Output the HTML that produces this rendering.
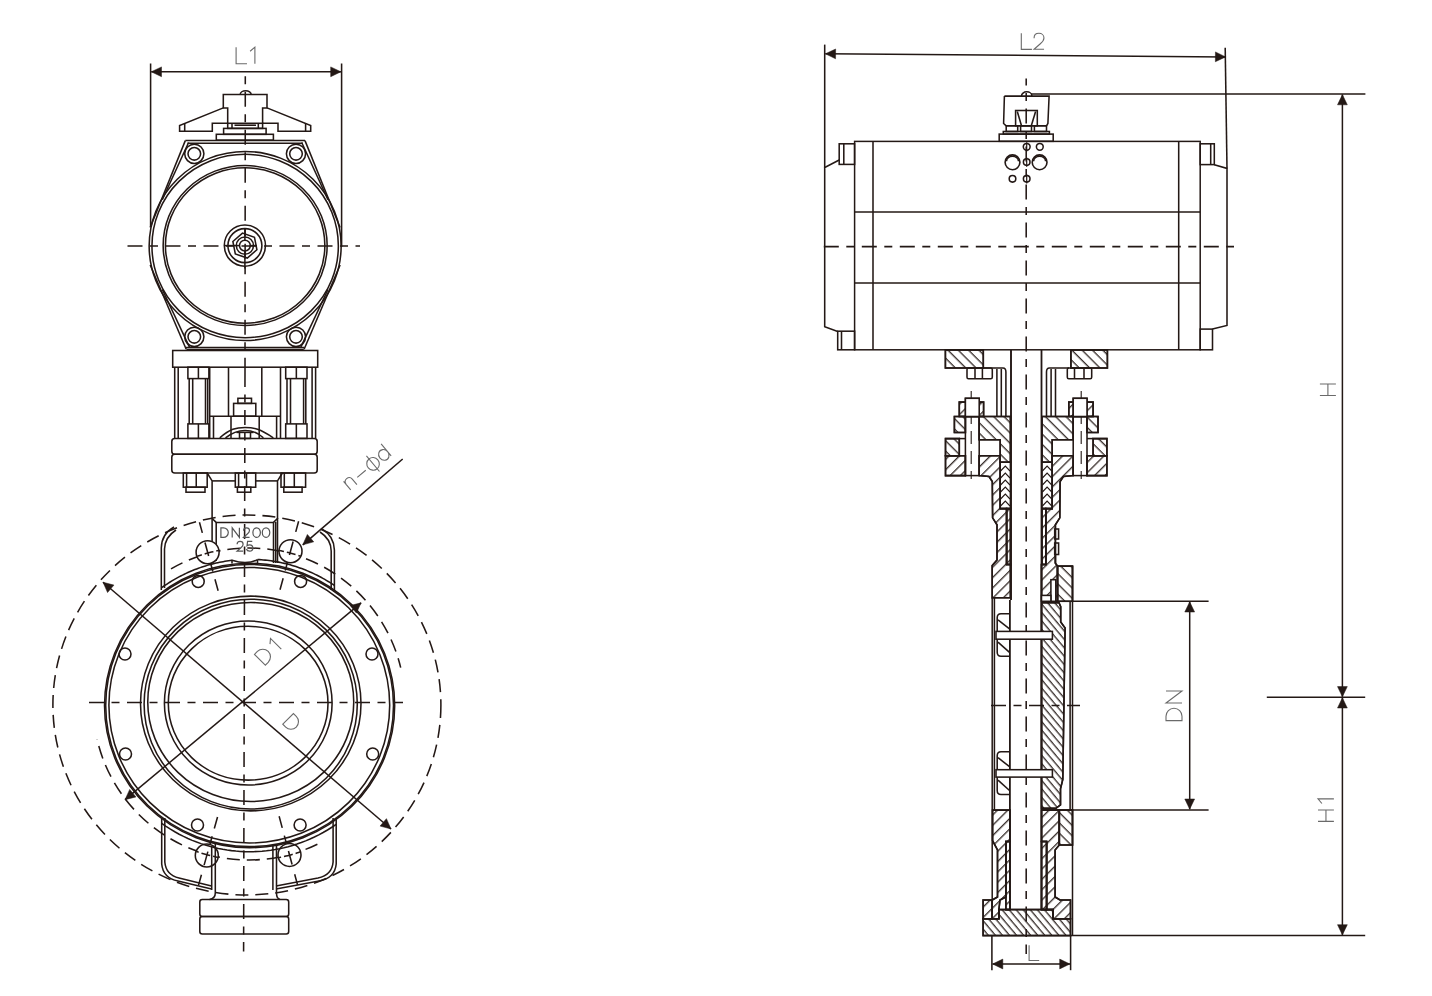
<!DOCTYPE html>
<html><head><meta charset="utf-8"><title>Butterfly valve drawing</title>
<style>
html,body{margin:0;padding:0;background:#fff;}
body{width:1432px;height:996px;overflow:hidden;}
svg{display:block;}
svg text{font-family:"Liberation Sans",sans-serif;stroke:none;opacity:0.99;}
</style></head><body>
<svg width="1432" height="996" viewBox="0 0 1432 996">
<defs>
<pattern id="hb" patternUnits="userSpaceOnUse" width="20" height="7.3" patternTransform="rotate(45)"><line x1="0" y1="0.7" x2="20" y2="0.7" stroke="#231815" stroke-width="1.2"/></pattern>
<pattern id="hf" patternUnits="userSpaceOnUse" width="20" height="7.3" patternTransform="rotate(-45)"><line x1="0" y1="0.7" x2="20" y2="0.7" stroke="#231815" stroke-width="1.2"/></pattern>
<pattern id="hbs" patternUnits="userSpaceOnUse" width="20" height="5.4" patternTransform="rotate(50)"><line x1="0" y1="0.7" x2="20" y2="0.7" stroke="#231815" stroke-width="1.2"/></pattern>
<pattern id="hfd" patternUnits="userSpaceOnUse" width="20" height="3.2" patternTransform="rotate(-60)"><line x1="0" y1="0.6" x2="20" y2="0.6" stroke="#231815" stroke-width="1.1"/></pattern>
</defs>
<rect width="100%" height="100%" fill="#fff"/>
<g fill="none" stroke="#231815" stroke-width="1.55" stroke-linejoin="miter" stroke-linecap="butt">
<style>.cl{stroke-dasharray:15 7.5 8 7.5;} .dc{stroke-dasharray:13 7;} .thin{stroke-width:1.1;}</style>
<line x1="150.6" y1="63.5" x2="150.6" y2="227"/>
<line x1="341.6" y1="63.5" x2="341.6" y2="247"/>
<line x1="151.3" y1="71.8" x2="340.9" y2="71.8" stroke-width="1.5"/>
<polygon points="151.3,71.8 161.5,66.9 161.5,76.7" fill="#231815" stroke-width="0.5"/>
<polygon points="340.9,71.8 330.7,76.7 330.7,66.9" fill="#231815" stroke-width="0.5"/>
<path d="M 0.00 -16.50 V 0.00 H 10.89 M 14.00 -12.46 L 18.79 -16.50 V 0.00" transform="translate(236.1 63.7) rotate(0)" stroke="#6a6a6a" stroke-width="1.1" fill="none" stroke-linecap="butt"/>
<path d="M240.2,94.6 A5.5,3.8 0 0 1 251.2,94.6"/>
<polyline points="227.7,123.3 227.7,107.9 223.3,107.9 223.3,94.4 267,94.4 267,107.9 262.6,107.9 262.6,123.3"/>
<polyline points="223.3,107.9 179.6,125.5 179.6,131.3 212.3,131.3 212.3,123.3 227.7,123.3"/>
<polyline points="267,107.9 310.7,125.5 310.7,131.3 278,131.3 278,123.3 262.6,123.3"/>
<line x1="184.7" y1="123.4" x2="184.7" y2="131.3"/>
<line x1="305.6" y1="123.4" x2="305.6" y2="131.3"/>
<rect x="227.7" y="123.3" width="34.9" height="5.1"/>
<line x1="232" y1="123.3" x2="232" y2="128.4"/>
<line x1="258.3" y1="123.3" x2="258.3" y2="128.4"/>
<line x1="234.5" y1="125.2" x2="256" y2="125.2"/>
<rect x="223.6" y="128.4" width="42.5" height="5.9"/>
<rect x="216.3" y="134.3" width="57.1" height="5.8"/>
<line x1="185.3" y1="140.6" x2="305" y2="140.6" stroke-width="1.5"/>
<line x1="187.5" y1="143.2" x2="302.8" y2="143.2"/>
<polyline points="185.3,140.6 150.2,227.5"/>
<polyline points="150.2,265 186.2,349.2"/>
<polyline points="305,140.6 340.1,227.5"/>
<polyline points="340.1,265 304.1,349.2"/>
<line x1="188.6" y1="142.5" x2="162.3" y2="199.8"/>
<line x1="162.3" y1="289.5" x2="189.7" y2="347.6"/>
<line x1="301.7" y1="142.5" x2="328" y2="199.8"/>
<line x1="328" y1="289.5" x2="300.6" y2="347.6"/>
<line x1="186" y1="347.4" x2="304.3" y2="347.4"/>
<line x1="186.5" y1="349.6" x2="303.8" y2="349.6"/>
<ellipse cx="245.15" cy="246" rx="96" ry="94.5"/>
<ellipse cx="245.15" cy="246" rx="93.2" ry="91.7"/>
<ellipse cx="245.15" cy="245.5" rx="82" ry="80"/>
<ellipse cx="245.15" cy="245.5" rx="79.7" ry="77.8"/>
<circle cx="194.3" cy="153.8" r="9.6"/>
<circle cx="194.3" cy="153.8" r="6.3"/>
<circle cx="296" cy="153.8" r="9.6"/>
<circle cx="296" cy="153.8" r="6.3"/>
<circle cx="194.3" cy="336.8" r="9.6"/>
<circle cx="194.3" cy="336.8" r="6.3"/>
<circle cx="296" cy="336.8" r="9.6"/>
<circle cx="296" cy="336.8" r="6.3"/>
<circle cx="244.9" cy="245.6" r="20.6"/>
<circle cx="244.9" cy="245.6" r="17"/>
<polygon points="256.91,249.73 247.32,258.07 235.32,253.93 232.89,241.47 242.48,233.13 254.48,237.27"/>
<circle cx="244.9" cy="245.6" r="8.6"/>
<circle cx="244.9" cy="245.6" r="5.4"/>
<line x1="224.3" y1="245.6" x2="239.5" y2="245.6"/>
<line x1="250.3" y1="245.6" x2="256.9" y2="245.6"/>
<line x1="244.9" y1="228.6" x2="244.9" y2="241.1"/>
<line x1="244.9" y1="251" x2="244.9" y2="268.6"/>
<line x1="127.5" y1="246" x2="360" y2="246" class="cl"/>
<line x1="245.3" y1="76.3" x2="245" y2="372" class="cl" stroke-dashoffset="22.5"/>
<rect x="172.7" y="350.5" width="145" height="16.7"/>
<line x1="174.7" y1="367.2" x2="174.7" y2="438.4"/>
<line x1="178.2" y1="367.2" x2="178.2" y2="438.4"/>
<line x1="312.1" y1="367.2" x2="312.1" y2="438.4"/>
<line x1="315.6" y1="367.2" x2="315.6" y2="438.4"/>
<rect x="187.9" y="367.2" width="21" height="11.4"/>
<rect x="187.9" y="423.9" width="21" height="14.5"/>
<line x1="198.4" y1="367.2" x2="198.4" y2="378.6"/>
<line x1="198.4" y1="423.9" x2="198.4" y2="438.4"/>
<line x1="189.2" y1="378.6" x2="189.2" y2="423.9"/>
<line x1="192.7" y1="378.6" x2="192.7" y2="423.9"/>
<line x1="205.5" y1="378.6" x2="205.5" y2="423.9"/>
<line x1="207.7" y1="378.6" x2="207.7" y2="423.9"/>
<rect x="285.7" y="367.2" width="21.3" height="11.4"/>
<rect x="285.7" y="423.9" width="21.3" height="14.5"/>
<line x1="296.35" y1="367.2" x2="296.35" y2="378.6"/>
<line x1="296.35" y1="423.9" x2="296.35" y2="438.4"/>
<line x1="287" y1="378.6" x2="287" y2="423.9"/>
<line x1="290.5" y1="378.6" x2="290.5" y2="423.9"/>
<line x1="303.6" y1="378.6" x2="303.6" y2="423.9"/>
<line x1="305.8" y1="378.6" x2="305.8" y2="423.9"/>
<line x1="209.7" y1="367.2" x2="209.7" y2="438.4"/>
<line x1="280.5" y1="367.2" x2="280.5" y2="438.4"/>
<line x1="228.5" y1="367.2" x2="228.5" y2="416.2"/>
<line x1="261.8" y1="367.2" x2="261.8" y2="416.2"/>
<line x1="209.7" y1="416.2" x2="280.5" y2="416.2"/>
<rect x="237.9" y="398.3" width="13.6" height="5.1"/>
<rect x="233.6" y="403.4" width="22.2" height="12.8"/>
<line x1="213.5" y1="416.2" x2="213.5" y2="438.4"/>
<line x1="276.6" y1="416.2" x2="276.6" y2="438.4"/>
<line x1="231" y1="416.2" x2="231" y2="438.4"/>
<line x1="259.2" y1="416.2" x2="259.2" y2="438.4"/>
<path d="M219.8,437.8 C230,429 236,427.4 245,427.4 C254,427.4 260,429 273.3,437.8"/>
<path d="M225.5,437.8 C233,431.8 238,430.4 245,430.4 C252,430.4 257,431.8 263.4,437.8"/>
<rect x="239.5" y="432.4" width="11" height="6"/>
<line x1="236.5" y1="432.4" x2="239.5" y2="432.4"/>
<line x1="250.5" y1="432.4" x2="253.5" y2="432.4"/>
<rect x="171.8" y="438.4" width="145.4" height="15.8" rx="3"/>
<rect x="171.8" y="454.2" width="145.4" height="18.8" rx="3"/>
<rect x="183.3" y="473" width="23.9" height="14.2"/>
<line x1="186.6" y1="473" x2="186.6" y2="487.2"/>
<line x1="196.25" y1="473" x2="196.25" y2="487.2"/>
<rect x="186" y="487.2" width="19" height="5"/>
<rect x="235.3" y="473" width="20.4" height="14.2"/>
<line x1="238.6" y1="473" x2="238.6" y2="487.2"/>
<line x1="246.5" y1="473" x2="246.5" y2="487.2"/>
<rect x="237.4" y="487.2" width="13.4" height="5"/>
<rect x="281" y="473" width="24.6" height="14.2"/>
<line x1="284.3" y1="473" x2="284.3" y2="487.2"/>
<line x1="294.3" y1="473" x2="294.3" y2="487.2"/>
<rect x="283.8" y="487.2" width="18.3" height="5"/>
<polyline points="207.2,473 212.1,480.9 212.1,560"/>
<polyline points="282.4,473 277.5,480.9 277.5,563"/>
<line x1="212.1" y1="480.9" x2="235.3" y2="480.9"/>
<line x1="255.7" y1="480.9" x2="277.5" y2="480.9"/>
<line x1="275.7" y1="522" x2="275.7" y2="563"/>
<polyline points="211.6,518 216.2,522.4 273.5,522.4 278,518"/>
<line x1="216.2" y1="522.4" x2="216.2" y2="561"/>
<line x1="273.5" y1="522.4" x2="273.5" y2="563"/>
<line x1="245" y1="372" x2="243.6" y2="951.5" class="cl"/>
<ellipse cx="246.9" cy="705" rx="194" ry="190" class="dc"/>
<path d="M171,568.9 A156,156 0 0 1 400.69,667.58" class="dc"/>
<path d="M317.39,844.21 A156,156 0 0 1 97,739.09" class="dc"/>
<ellipse cx="249.6" cy="705.5" rx="145.1" ry="142.2" stroke-width="1.5"/>
<ellipse cx="249.6" cy="705.5" rx="143.9" ry="141.1"/>
<ellipse cx="249.3" cy="705.2" rx="140.4" ry="137.8"/>
<ellipse cx="250.75" cy="703.5" rx="110.25" ry="107.4"/>
<ellipse cx="250.7" cy="704.1" rx="106.6" ry="104.9"/>
<ellipse cx="250.75" cy="702" rx="103" ry="99.5"/>
<ellipse cx="248.25" cy="703" rx="83.85" ry="82"/>
<ellipse cx="248.15" cy="703.2" rx="79.85" ry="76.9"/>
<circle cx="198.2" cy="581.4" r="6"/>
<circle cx="300.6" cy="581.4" r="6"/>
<circle cx="125" cy="654" r="6"/>
<circle cx="372" cy="654" r="6"/>
<circle cx="125.5" cy="754" r="6"/>
<circle cx="372.7" cy="754" r="6"/>
<circle cx="197.5" cy="825" r="6"/>
<circle cx="300.1" cy="825" r="6"/>
<circle cx="207.6" cy="552.2" r="11.5" fill="#fff"/>
<path d="M199.44,522.29 L218.39,591.76" stroke-dasharray="11 10 14 8 8 8 12"/>
<circle cx="290.5" cy="551.2" r="11.5" fill="#fff"/>
<path d="M298.63,521.28 L279.75,590.77" stroke-dasharray="11 10 14 8 8 8 12"/>
<circle cx="206.8" cy="855.5" r="11.5" fill="#fff"/>
<path d="M198.48,885.36 L217.8,816" stroke-dasharray="11 10 14 8 8 8 12"/>
<circle cx="289.5" cy="854.9" r="11.5" fill="#fff"/>
<path d="M297.54,884.84 L278.87,815.3" stroke-dasharray="11 10 14 8 8 8 12"/>
<polyline points="197.07,556.37 198.84,555.76 200.63,555.16 202.41,554.59 204.21,554.05 206.01,553.52 207.82,553.01 209.64,552.53 211.46,552.07 213.28,551.63 215.11,551.21 216.95,550.82 218.79,550.44" stroke-dasharray="5 3 9 3"/>
<polyline points="279.05,550.41 280.89,550.78 282.73,551.18 284.56,551.59 286.38,552.03 288.2,552.49 290.02,552.97 291.83,553.47 293.63,554 295.43,554.55 297.22,555.11 299,555.7 300.78,556.31" stroke-dasharray="5 3 9 3"/>
<polyline points="217.96,857.39 216.12,857.01 214.29,856.6 212.46,856.17 210.64,855.72 208.82,855.25 207.01,854.76 205.2,854.25 203.4,853.71 201.61,853.15 199.82,852.57 198.04,851.97 196.27,851.35" stroke-dasharray="5 3 9 3"/>
<polyline points="300.34,851.84 298.56,852.45 296.77,853.03 294.98,853.59 293.18,854.13 291.38,854.65 289.57,855.15 287.75,855.63 285.93,856.08 284.1,856.51 282.27,856.92 280.43,857.31 278.59,857.68" stroke-dasharray="5 3 9 3"/>
<polyline points="161.3,587.95 163.07,586.69 164.84,585.46 166.6,584.27 168.37,583.11 170.14,581.99 171.91,580.91 173.67,579.86 175.44,578.84 177.21,577.85 178.98,576.89 180.74,575.97 182.51,575.07 184.28,574.2 186.05,573.37 187.81,572.56 189.58,571.77 191.35,571.02 193.12,570.29 194.88,569.59 196.65,568.91 198.42,568.26 200.19,567.63 201.95,567.03 203.72,566.45 205.49,565.9 207.25,565.37 209.02,564.86 210.79,564.38 212.56,563.92 214.32,563.48 216.09,563.07 217.86,562.68 219.63,562.31 221.4,561.96 223.16,561.64 224.93,561.33 226.7,561.05 228.47,560.79 230.23,560.55 232,560.33"/>
<polyline points="257.5,559.51 259.42,559.62 261.35,559.76 263.27,559.92 265.19,560.11 267.11,560.32 269.03,560.56 270.96,560.82 272.88,561.11 274.8,561.42 276.73,561.76 278.65,562.12 280.57,562.51 282.49,562.93 284.41,563.37 286.34,563.84 288.26,564.34 290.18,564.87 292.11,565.42 294.03,566 295.95,566.6 297.87,567.24 299.79,567.91 301.72,568.6 303.64,569.32 305.56,570.08 307.49,570.86 309.41,571.68 311.33,572.53 313.25,573.41 315.17,574.33 317.1,575.27 319.02,576.26 320.94,577.28 322.87,578.33 324.79,579.42 326.71,580.56 328.63,581.72 330.55,582.94 332.48,584.19 334.4,585.48"/>
<path d="M232,560.2 C236,561.5 240,562.5 245,562.5 C250,562.5 254,561.5 257.5,559.6"/>
<line x1="232" y1="559.8" x2="232" y2="563.5"/>
<line x1="257.5" y1="559.6" x2="257.5" y2="563.5"/>
<polyline points="161.7,823.34 166.06,826.37 170.42,829.19 174.79,831.79 179.15,834.2 183.51,836.42 187.88,838.47 192.24,840.35 196.6,842.07 200.96,843.64 205.32,845.05 209.69,846.32 214.05,847.45 218.41,848.44 222.77,849.29 227.14,850.02 231.5,850.61 235.86,851.07 240.22,851.41 244.59,851.62 248.95,851.7 253.31,851.65 257.67,851.48 262.04,851.19 266.4,850.76 270.76,850.21 275.12,849.52 279.49,848.71 283.85,847.76 288.21,846.67 292.57,845.44 296.94,844.07 301.3,842.55 305.66,840.88 310.02,839.05 314.39,837.05 318.75,834.88 323.11,832.53 327.48,829.98 331.84,827.23 336.2,824.27"/>
<path d="M161.3,590 L161.3,548 Q161.5,534 174,527"/>
<path d="M164.5,588 L164.5,549 Q165,537 176,530"/>
<path d="M334.4,592 L334.4,550 Q334,536 322,529"/>
<path d="M331.2,590 L331.2,551 Q331,539 320,532"/>
<path d="M161.7,818 L161.7,864 Q163,878 178,881 L211.5,889"/>
<path d="M164.8,818 L164.8,862 Q166,875 179,878 L211.5,886"/>
<path d="M336.2,818 L336.2,864 Q335,878 319,881 L276,889"/>
<path d="M333.1,818 L333.1,862 Q332,875 318,878 L276,886"/>
<line x1="211.7" y1="846" x2="211.7" y2="890"/>
<path d="M215.3,844 L215.3,893 Q215.3,898.6 209.5,899.4"/>
<line x1="272.9" y1="846" x2="272.9" y2="890"/>
<path d="M276.5,844 L276.5,893 Q276.5,898.6 280,899.4"/>
<rect x="199.8" y="899.4" width="88.9" height="17" rx="2.5"/>
<rect x="199.8" y="916.4" width="88.9" height="17.6" rx="2.5"/>
<line x1="89" y1="702.5" x2="403" y2="702.5" class="cl"/>
<line x1="103" y1="582.2" x2="391" y2="829" stroke-width="1.5"/>
<polygon points="103,582.2 113.93,585.12 107.56,592.56" fill="#231815" stroke-width="0.5"/>
<polygon points="391,829 380.07,826.08 386.44,818.64" fill="#231815" stroke-width="0.5"/>
<line x1="125" y1="799.7" x2="361.1" y2="602.8" stroke-width="1.5"/>
<polygon points="125,799.7 129.7,789.4 135.97,796.93" fill="#231815" stroke-width="0.5"/>
<polygon points="361.1,602.8 356.4,613.1 350.13,605.57" fill="#231815" stroke-width="0.5"/>
<path d="M 0.00 0.00 V -15.30 H 4.13 A 7.65 7.65 0 0 1 11.78 -7.65 A 7.65 7.65 0 0 1 4.13 0.00 Z M 18.20 -11.55 L 22.64 -15.30 V 0.00" transform="translate(265.3 665.2) rotate(-45)" stroke="#6a6a6a" stroke-width="1.1" fill="none" stroke-linecap="butt"/>
<path d="M 0.00 0.00 V -15.00 H 4.05 A 7.50 7.50 0 0 1 11.55 -7.50 A 7.50 7.50 0 0 1 4.05 0.00 Z" transform="translate(282.8 724.2) rotate(45)" stroke="#6a6a6a" stroke-width="1.1" fill="none" stroke-linecap="butt"/>
<path d="M 0.00 0.00 V -9.60 H 2.59 A 4.80 4.80 0 0 1 7.39 -4.80 A 4.80 4.80 0 0 1 2.59 0.00 Z M 11.30 0.00 V -9.60 L 18.50 0.00 V -9.60 M 22.70 -6.72 C 22.70 -8.54 23.94 -9.60 25.58 -9.60 C 27.30 -9.60 28.60 -8.45 28.60 -6.82 C 28.60 -5.38 27.69 -4.42 26.44 -3.36 L 22.70 -0.10 H 28.65 M 35.74 -9.60 A 3.74 4.80 0 0 1 39.49 -4.80 A 3.74 4.80 0 0 1 35.74 0.00 A 3.74 4.80 0 0 1 32.00 -4.80 A 3.74 4.80 0 0 1 35.74 -9.60 Z M 45.14 -9.60 A 3.74 4.80 0 0 1 48.89 -4.80 A 3.74 4.80 0 0 1 45.14 0.00 A 3.74 4.80 0 0 1 41.40 -4.80 A 3.74 4.80 0 0 1 45.14 -9.60 Z" transform="translate(220.9 537.4) rotate(0)" stroke="#555555" stroke-width="1.2" fill="none" stroke-linecap="butt"/>
<path d="M 0.10 -6.86 C 0.10 -8.72 1.37 -9.80 3.04 -9.80 C 4.80 -9.80 6.12 -8.62 6.12 -6.96 C 6.12 -5.49 5.19 -4.51 3.92 -3.43 L 0.10 -0.10 H 6.17 M 15.28 -9.80 H 10.58 L 9.99 -5.49 C 10.87 -6.08 11.75 -6.32 12.63 -6.32 C 14.50 -6.32 15.87 -4.90 15.87 -3.14 C 15.87 -1.27 14.40 0.00 12.63 0.00 C 10.97 0.00 9.79 -0.88 9.40 -2.16" transform="translate(237 551.2) rotate(0)" stroke="#555555" stroke-width="1.2" fill="none" stroke-linecap="butt"/>
<line x1="402.7" y1="459" x2="302.8" y2="544.8"/>
<polygon points="302.8,544.8 307.35,534.44 313.73,541.87" fill="#231815" stroke-width="0.5"/>
<path d="M0,0 V-11.1 M0,-7.2 C0.3,-10 2,-11.2 4.1,-11.2 C6.3,-11.2 8.1,-10 8.1,-7.2 V0 M13,-5.3 H24.1 M33.8,4.5 V-15.8 M52.8,0 V-15.6 M52.8,-5.5 A5,5.6 0 1 0 52.8,-5.4" transform="translate(350.7 489.8) rotate(-40)" stroke="#6a6a6a" stroke-width="1.1" fill="none"/>
<ellipse cx="33.8" cy="-5.5" rx="6.2" ry="6.4" transform="translate(350.7 489.8) rotate(-40)" stroke="#6a6a6a" stroke-width="1.1" fill="none"/>
<line x1="824.7" y1="44.6" x2="824.7" y2="167.5"/>
<polyline points="1225.2,47.7 1227,168.4"/>
<line x1="825.4" y1="53.8" x2="1225.6" y2="56.9" stroke-width="1.5"/>
<polygon points="825.4,53.8 835.64,48.98 835.56,58.78" fill="#231815" stroke-width="0.5"/>
<polygon points="1225.6,56.9 1215.36,61.72 1215.44,51.92" fill="#231815" stroke-width="0.5"/>
<path d="M 0.00 -16.10 V 0.00 H 10.63 M 12.76 -11.27 C 12.76 -14.33 14.85 -16.10 17.59 -16.10 C 20.49 -16.10 22.66 -14.17 22.66 -11.43 C 22.66 -9.02 21.13 -7.41 19.04 -5.63 L 12.76 -0.16 H 22.74" transform="translate(1021.3 49.4) rotate(0)" stroke="#6a6a6a" stroke-width="1.1" fill="none" stroke-linecap="butt"/>
<rect x="854.6" y="141.4" width="345.6" height="208.4" stroke-width="1.5"/>
<line x1="873" y1="141.4" x2="873" y2="349.8"/>
<line x1="1178.7" y1="141.4" x2="1178.7" y2="349.8"/>
<line x1="854.6" y1="212" x2="1200.2" y2="212"/>
<line x1="854.6" y1="282.9" x2="1200.2" y2="282.9"/>
<rect x="839.2" y="143.8" width="15.4" height="20.6"/>
<line x1="843.8" y1="143.8" x2="843.8" y2="164.4"/>
<rect x="1200.2" y="143.8" width="14.1" height="20.8"/>
<line x1="1210.7" y1="143.8" x2="1210.7" y2="164.6"/>
<rect x="837.7" y="331.2" width="16.9" height="18.6"/>
<line x1="841.5" y1="331.2" x2="841.5" y2="349.8"/>
<rect x="1200.2" y="329.1" width="12.3" height="20.7"/>
<polyline points="839.2,160 824.7,167.5 824.7,326.8 837.7,331.4"/>
<polyline points="1214.3,164.8 1227,168.4 1227,325.5 1212.5,329.1"/>
<line x1="823.8" y1="246.6" x2="1234" y2="246.6" class="cl"/>
<path d="M1021.5,96 A5.2,4.2 0 0 1 1031.9,96"/>
<polyline points="1004.4,96.1 1049.1,96.1 1047.9,123.5 1046.5,125.8"/>
<polyline points="1004.4,96.1 1003.6,123.5 1006.2,125.8"/>
<rect x="1015.6" y="110.5" width="21.7" height="15.3"/>
<polyline points="1017.3,111.5 1021.5,125.8"/>
<polyline points="1035.6,111.5 1031.3,125.8"/>
<line x1="1006.2" y1="125.8" x2="1046.5" y2="125.8"/>
<rect x="1006.2" y="125.8" width="11.5" height="5.7"/>
<rect x="1020.6" y="125.8" width="10.9" height="5.7"/>
<rect x="1034.4" y="125.8" width="12.1" height="5.7"/>
<rect x="1003.3" y="131.5" width="46.1" height="2.6"/>
<rect x="999.2" y="134.1" width="54" height="7.2"/>
<circle cx="1026.7" cy="146.8" r="3.4"/>
<line x1="1026.7" y1="142.2" x2="1026.7" y2="151.4" stroke-width="1.2"/>
<circle cx="1039.8" cy="146.8" r="3.4"/>
<circle cx="1026.7" cy="162.1" r="3.3"/>
<line x1="1026.7" y1="157.5" x2="1026.7" y2="166.7" stroke-width="1.2"/>
<circle cx="1012.5" cy="178.8" r="3.3"/>
<circle cx="1026.7" cy="178.8" r="3.3"/>
<line x1="1026.7" y1="174.2" x2="1026.7" y2="183.4" stroke-width="1.2"/>
<circle cx="1012.5" cy="162.3" r="7.4" stroke-width="1.6"/>
<path d="M1006.5,161.3 A6,5 0 0 1 1018.5,161.3"/>
<circle cx="1039.6" cy="162.3" r="7.4" stroke-width="1.6"/>
<path d="M1033.6,161.3 A6,5 0 0 1 1045.6,161.3"/>
<line x1="1031" y1="93.9" x2="1365.4" y2="93.9"/>
<line x1="1026.2" y1="78.5" x2="1026.2" y2="954" class="cl" stroke-dashoffset="8"/>
<polygon points="945.4,349.9 983.3,349.9 983.3,368 945.4,368" fill="url(#hb)"/>
<rect x="945.4" y="349.9" width="37.9" height="18.1"/>
<polygon points="1070.9,349.9 1107.4,349.9 1107.4,368 1070.9,368" fill="url(#hb)"/>
<rect x="1070.9" y="349.9" width="36.5" height="18.1"/>
<rect x="967" y="368" width="25.3" height="10.8" rx="1.5"/>
<line x1="975" y1="368" x2="975" y2="378.8"/>
<line x1="982.4" y1="368" x2="982.4" y2="378.8"/>
<rect x="1067.3" y="368" width="24.4" height="10.8" rx="1.5"/>
<line x1="1074.5" y1="368" x2="1074.5" y2="378.8"/>
<line x1="1084" y1="368" x2="1084" y2="378.8"/>
<path d="M983.3,368 L1003,368 Q1005.9,368 1005.9,372 L1005.9,416.5"/>
<line x1="996.9" y1="369" x2="996.9" y2="416.5"/>
<line x1="1001.3" y1="369" x2="1001.3" y2="416.5"/>
<path d="M1069.1,368 L1049.4,368 Q1046.5,368 1046.5,372 L1046.5,416.5"/>
<line x1="1055.5" y1="369" x2="1055.5" y2="416.5"/>
<line x1="1051.1" y1="369" x2="1051.1" y2="416.5"/>
<line x1="1011" y1="349.9" x2="1011" y2="600" stroke-width="1.9"/>
<line x1="1041.5" y1="349.9" x2="1041.5" y2="909.6" stroke-width="1.8"/>
<line x1="1009.9" y1="600" x2="1009.9" y2="909.6" stroke-width="1.8"/>
<polygon points="954.4,416.5 1010.4,416.5 1010.4,462.3 1000.2,462.3 1000.2,439.7 979.2,439.7 979.2,416.5 965.4,416.5 965.4,432.5 954.4,432.5" fill="url(#hb)"/>
<polygon points="954.4,416.5 1010.4,416.5 1010.4,462.3 1000.2,462.3 1000.2,439.7 979.2,439.7 979.2,416.5 965.4,416.5 965.4,432.5 954.4,432.5"/>
<polygon points="945.5,438.6 959.3,438.6 959.3,455.7 945.5,455.7" fill="url(#hb)"/>
<polygon points="945.5,438.6 959.3,438.6 959.3,455.7 945.5,455.7"/>
<line x1="959.3" y1="438.6" x2="965.4" y2="438.6"/>
<polygon points="945.5,455.7 965.4,455.7 965.4,475.6 945.5,475.6" fill="url(#hf)"/>
<polygon points="945.5,455.7 965.4,455.7 965.4,475.6 945.5,475.6"/>
<polygon points="979.2,455.7 1000.2,455.7 1000.2,508.6 1006.6,508.6 1006.6,564.5 1010.4,564.5 1010.4,597.8 992.2,597.8 992.2,565.5 997,559.9 997,524.8 992.6,517.8 992.3,481.6 989,476.5 979.2,475.6" fill="url(#hf)"/>
<polygon points="979.2,455.7 1000.2,455.7 1000.2,508.6 1006.6,508.6 1006.6,564.5 1010.4,564.5 1010.4,597.8 992.2,597.8 992.2,565.5 997,559.9 997,524.8 992.6,517.8 992.3,481.6 989,476.5 979.2,475.6"/>
<rect x="965.4" y="398.3" width="13.8" height="77.3"/>
<line x1="971.2" y1="391" x2="971.2" y2="479" stroke-width="1.1" class="dc"/>
<polygon points="959.3,402.1 983.6,402.1 983.6,416.5 959.3,416.5" fill="url(#hf)"/>
<polygon points="959.3,402.1 983.6,402.1 983.6,416.5 959.3,416.5"/>
<rect x="965.4" y="398.3" width="13.8" height="18.2" fill="#fff"/>
<polygon points="1000.2,462.3 1010.4,462.3 1010.4,508.6 1000.2,508.6"/>
<polyline points="1000.6,471 1005.3,466 1010,471" stroke-width="1.1"/>
<polyline points="1000.6,478 1005.3,473 1010,478" stroke-width="1.1"/>
<polyline points="1000.6,485 1005.3,480 1010,485" stroke-width="1.1"/>
<polyline points="1000.6,492 1005.3,487 1010,492" stroke-width="1.1"/>
<polyline points="1000.6,499 1005.3,494 1010,499" stroke-width="1.1"/>
<polyline points="1000.6,506 1005.3,501 1010,506" stroke-width="1.1"/>
<polygon points="1006.6,508.6 1010.4,508.6 1010.4,564.5 1006.6,564.5" fill="url(#hf)"/>
<polygon points="1006.6,508.6 1010.4,508.6 1010.4,564.5 1006.6,564.5"/>
<polygon points="1098,416.5 1042,416.5 1042,462.3 1052.2,462.3 1052.2,439.7 1073.2,439.7 1073.2,416.5 1087,416.5 1087,432.5 1098,432.5" fill="url(#hb)"/>
<polygon points="1098,416.5 1042,416.5 1042,462.3 1052.2,462.3 1052.2,439.7 1073.2,439.7 1073.2,416.5 1087,416.5 1087,432.5 1098,432.5"/>
<polygon points="1106.9,438.6 1093.1,438.6 1093.1,455.7 1106.9,455.7" fill="url(#hb)"/>
<polygon points="1106.9,438.6 1093.1,438.6 1093.1,455.7 1106.9,455.7"/>
<line x1="1093.1" y1="438.6" x2="1087" y2="438.6"/>
<polygon points="1106.9,455.7 1087,455.7 1087,475.6 1106.9,475.6" fill="url(#hf)"/>
<polygon points="1106.9,455.7 1087,455.7 1087,475.6 1106.9,475.6"/>
<polygon points="1073.2,455.7 1052.2,455.7 1052.2,508.6 1045.8,508.6 1045.8,564.5 1041.5,564.5 1041.5,601.3 1057.5,601.3 1057.5,566.1 1055.4,563.3 1055.4,524.8 1059.8,517.8 1060.1,481.6 1063.4,476.5 1073.2,475.6" fill="url(#hf)"/>
<polygon points="1073.2,455.7 1052.2,455.7 1052.2,508.6 1045.8,508.6 1045.8,564.5 1041.5,564.5 1041.5,601.3 1057.5,601.3 1057.5,566.1 1055.4,563.3 1055.4,524.8 1059.8,517.8 1060.1,481.6 1063.4,476.5 1073.2,475.6"/>
<rect x="1073.2" y="398.3" width="13.8" height="77.3"/>
<line x1="1081.2" y1="391" x2="1081.2" y2="479" stroke-width="1.1" class="dc"/>
<polygon points="1093.1,402.1 1068.8,402.1 1068.8,416.5 1093.1,416.5" fill="url(#hf)"/>
<polygon points="1093.1,402.1 1068.8,402.1 1068.8,416.5 1093.1,416.5"/>
<rect x="1073.2" y="398.3" width="13.8" height="18.2" fill="#fff"/>
<polygon points="1052.2,462.3 1042,462.3 1042,508.6 1052.2,508.6"/>
<polyline points="1051.8,471 1047.1,466 1042.4,471" stroke-width="1.1"/>
<polyline points="1051.8,478 1047.1,473 1042.4,478" stroke-width="1.1"/>
<polyline points="1051.8,485 1047.1,480 1042.4,485" stroke-width="1.1"/>
<polyline points="1051.8,492 1047.1,487 1042.4,492" stroke-width="1.1"/>
<polyline points="1051.8,499 1047.1,494 1042.4,499" stroke-width="1.1"/>
<polyline points="1051.8,506 1047.1,501 1042.4,506" stroke-width="1.1"/>
<polygon points="1045.8,508.6 1042,508.6 1042,564.5 1045.8,564.5" fill="url(#hf)"/>
<polygon points="1045.8,508.6 1042,508.6 1042,564.5 1045.8,564.5"/>
<polygon points="1057.5,566.1 1072.5,566.1 1072.5,601.3 1057.5,601.3" fill="url(#hb)"/>
<rect x="1057.5" y="566.1" width="15" height="35.2"/>
<rect x="1050.9" y="579.7" width="4.9" height="21.6" fill="#fff"/>
<rect x="1041.5" y="595.4" width="9.4" height="5.9" fill="#fff"/>
<line x1="1055.4" y1="554" x2="1055.4" y2="563.3"/>
<rect x="1054.7" y="543" width="3.9" height="11.5"/>
<rect x="1054.7" y="529" width="3.9" height="10"/>
<line x1="992.2" y1="597.8" x2="992.2" y2="900" stroke-width="1.5"/>
<line x1="994.4" y1="597.8" x2="994.4" y2="810"/>
<line x1="1070.1" y1="601" x2="1070.1" y2="810"/>
<line x1="1072.5" y1="566" x2="1072.5" y2="935.6" stroke-width="1.5"/>
<line x1="1072.5" y1="601.3" x2="1208.6" y2="601.3"/>
<line x1="1042" y1="810" x2="1208.6" y2="810"/>
<line x1="991" y1="705.5" x2="1080" y2="705.5" class="cl"/>
<polygon points="1041.5,602.7 1059,602.7 1060.7,606.6 1060.7,622 1065.1,628.1 1062.8,779.4 1060.5,788.7 1060.5,804.8 1056,808.3 1041.5,808.3" fill="url(#hbs)"/>
<polygon points="1041.5,602.7 1059,602.7 1060.7,606.6 1060.7,622 1065.1,628.1 1062.8,779.4 1060.5,788.7 1060.5,804.8 1056,808.3 1041.5,808.3"/>
<path d="M1009.9,613.8 L1001,613.8 Q997.2,613.8 997.2,617.8 L997.2,652.3 Q997.2,656.3 1001,656.3 L1009.9,656.3"/>
<line x1="998" y1="619.8" x2="1009.5" y2="628.8"/>
<line x1="998" y1="642.2" x2="1009.5" y2="652.3"/>
<rect x="996" y="631.4" width="56.4" height="7.8" fill="#fff"/>
<path d="M1009.9,751.7 L1001,751.7 Q997.2,751.7 997.2,755.7 L997.2,790.5 Q997.2,794.5 1001,794.5 L1009.9,794.5"/>
<line x1="998" y1="757.7" x2="1009.5" y2="766.7"/>
<line x1="998" y1="780.1" x2="1009.5" y2="790.5"/>
<rect x="996" y="769.7" width="56.4" height="7.4" fill="#fff"/>
<polygon points="992.6,810.1 1009.9,810.1 1009.9,841.4 1005.9,841.4 1005.9,897 1000,900 998.9,909.6 998.9,918.7 992.2,918.7 992.2,900 997.5,897 997.5,849.9 992.6,840.7" fill="url(#hf)"/>
<polygon points="992.6,810.1 1009.9,810.1 1009.9,841.4 1005.9,841.4 1005.9,897 1000,900 998.9,909.6 998.9,918.7 992.2,918.7 992.2,900 997.5,897 997.5,849.9 992.6,840.7"/>
<polygon points="1041.5,810.1 1059.3,810.1 1059.3,845 1055.1,850 1055.1,897 1060,900 1070.5,900 1070.5,918.7 1053,918.7 1053,909.6 1046.6,909.6 1046.6,841.4 1041.5,841.4" fill="url(#hf)"/>
<polygon points="1041.5,810.1 1059.3,810.1 1059.3,845 1055.1,850 1055.1,897 1060,900 1070.5,900 1070.5,918.7 1053,918.7 1053,909.6 1046.6,909.6 1046.6,841.4 1041.5,841.4"/>
<polygon points="1059.3,810.1 1072.5,810.1 1072.5,845 1059.3,845" fill="url(#hb)"/>
<polygon points="1059.3,810.1 1072.5,810.1 1072.5,845 1059.3,845"/>
<polygon points="1005.9,841.4 1009.9,841.4 1009.9,909.6 1005.9,909.6" fill="url(#hf)"/>
<polygon points="1005.9,841.4 1009.9,841.4 1009.9,909.6 1005.9,909.6"/>
<polygon points="1041.5,841.4 1046.6,841.4 1046.6,909.6 1041.5,909.6" fill="url(#hf)"/>
<polygon points="1041.5,841.4 1046.6,841.4 1046.6,909.6 1041.5,909.6"/>
<polygon points="983.1,900 992.2,900 992.2,918.7 983.1,918.7" fill="url(#hf)"/>
<polygon points="983.1,900 992.2,900 992.2,918.7 983.1,918.7"/>
<polygon points="998.9,909.6 1053,909.6 1053,918.7 1070.5,918.7 1070.5,935.6 983.1,935.6 983.1,918.7 998.9,918.7" fill="url(#hbs)"/>
<polygon points="998.9,909.6 1053,909.6 1053,918.7 1070.5,918.7 1070.5,935.6 983.1,935.6 983.1,918.7 998.9,918.7" stroke-width="1.5"/>
<line x1="1070.5" y1="935.5" x2="1365.2" y2="935.5"/>
<line x1="991.9" y1="935.6" x2="991.9" y2="970.2"/>
<line x1="1070.6" y1="935.6" x2="1070.6" y2="970.2"/>
<line x1="992.6" y1="964" x2="1069.9" y2="964" stroke-width="1.5"/>
<polygon points="992.6,964 1002.8,959.1 1002.8,968.9" fill="#231815" stroke-width="0.5"/>
<polygon points="1069.9,964 1059.7,968.9 1059.7,959.1" fill="#231815" stroke-width="0.5"/>
<path d="M 0.00 -15.30 V 0.00 H 10.10" transform="translate(1029.1 960.5) rotate(0)" stroke="#6a6a6a" stroke-width="1.1" fill="none" stroke-linecap="butt"/>
<line x1="1342.4" y1="94.6" x2="1342.4" y2="696.8" stroke-width="1.5"/>
<polygon points="1342.4,94.6 1347.3,104.8 1337.5,104.8" fill="#231815" stroke-width="0.5"/>
<polygon points="1342.4,696.8 1337.5,686.6 1347.3,686.6" fill="#231815" stroke-width="0.5"/>
<line x1="1342.4" y1="697.8" x2="1342.4" y2="934.9" stroke-width="1.5"/>
<polygon points="1342.4,697.8 1347.3,708 1337.5,708" fill="#231815" stroke-width="0.5"/>
<polygon points="1342.4,934.9 1337.5,924.7 1347.3,924.7" fill="#231815" stroke-width="0.5"/>
<line x1="1266.8" y1="697.3" x2="1365.2" y2="697.3"/>
<line x1="1189.7" y1="601.8" x2="1189.7" y2="809.2" stroke-width="1.5"/>
<polygon points="1189.7,601.8 1194.6,612 1184.8,612" fill="#231815" stroke-width="0.5"/>
<polygon points="1189.7,809.2 1184.8,799 1194.6,799" fill="#231815" stroke-width="0.5"/>
<path d="M 0.00 0.00 V -16.00 M 11.52 0.00 V -16.00 M 0.00 -8.00 H 11.52" transform="translate(1335.9 395.5) rotate(-90)" stroke="#6a6a6a" stroke-width="1.1" fill="none" stroke-linecap="butt"/>
<path d="M 0.00 0.00 V -15.90 M 11.45 0.00 V -15.90 M 0.00 -7.95 H 11.45 M 17.90 -12.00 L 22.51 -15.90 V 0.00" transform="translate(1333.9 821.4) rotate(-90)" stroke="#6a6a6a" stroke-width="1.1" fill="none" stroke-linecap="butt"/>
<path d="M 0.00 0.00 V -16.00 H 4.32 A 8.00 8.00 0 0 1 12.32 -8.00 A 8.00 8.00 0 0 1 4.32 0.00 Z M 17.60 0.00 V -16.00 L 29.60 0.00 V -16.00" transform="translate(1182 720.6) rotate(-90)" stroke="#6a6a6a" stroke-width="1.1" fill="none" stroke-linecap="butt"/>
</g>
</svg>
</body></html>
